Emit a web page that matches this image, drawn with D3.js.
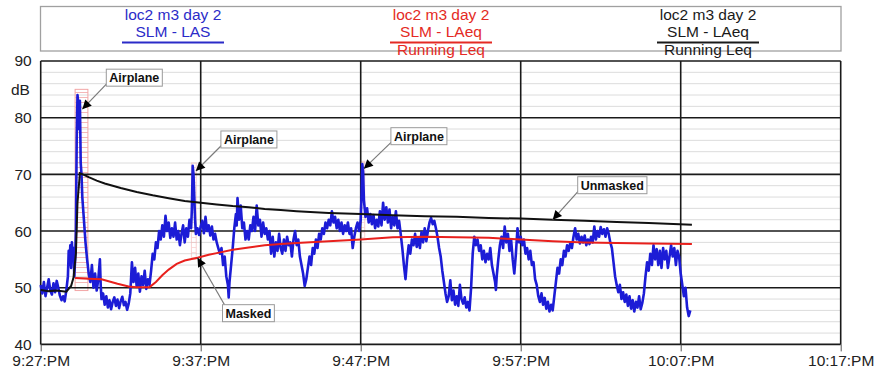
<!DOCTYPE html>
<html><head><meta charset="utf-8">
<script src="https://cdn.jsdelivr.net/npm/d3@7"></script>
<style>body{margin:0;background:#fff}svg{display:block}text{font-family:Arial,"Liberation Sans",sans-serif}</style>
</head><body><svg id="c" width="877" height="374"></svg>
<script>
// ---- data ----
const xTickValues = [0, 10, 20, 30, 40, 50]; // minutes after 9:27 PM
const xTickLabels = ["9:27:PM", "9:37:PM", "9:47:PM", "9:57:PM", "10:07:PM", "10:17:PM"];
const yTickValues = [40, 50, 60, 70, 80, 90];
const yUnit = "dB";

const legendTitles = ["loc2 m3 day 2", "loc2 m3 day 2", "loc2 m3 day 2"];
const legendNames = ["SLM - LAS", "SLM - LAeq", "SLM - LAeq"];
const legendSub = ["", "Running Leq", "Running Leq"];

// SLM - LAS [minutes, dB]
const lasSeries = [[0,50.5],[0.1,49],[0.2,51],[0.3,48.5],[0.4,50],[0.5,51.5],[0.6,49.5],[0.7,48.8],[0.8,50.8],[0.9,49.2],[1.0,51.2],[1.1,50],[1.2,48.6],[1.3,47.8],[1.4,48.5],[1.5,47.6],[1.6,49.5],[1.7,52],[1.75,56.5],[1.8,54],[1.85,57.5],[1.9,53.5],[1.95,58],[2.0,55],[2.05,57],[2.1,52],[2.15,55],[2.2,60],[2.25,76],[2.3,84],[2.35,82.5],[2.4,78],[2.45,83],[2.5,72],[2.55,70],[2.6,66],[2.7,62],[2.8,58],[2.9,55],[3.0,52.5],[3.1,51],[3.2,54],[3.3,50],[3.4,52.5],[3.5,49.5],[3.6,51.5],[3.7,55],[3.75,50.5],[3.8,48],[3.9,49],[4.0,47],[4.1,48.5],[4.2,46.5],[4.3,47.8],[4.4,46.2],[4.5,47.5],[4.6,48.3],[4.7,46.8],[4.8,47.9],[4.9,46.4],[5.0,47.6],[5.1,48.4],[5.2,46.9],[5.3,47.5],[5.4,46.1],[5.5,47.2],[5.6,49],[5.7,54.5],[5.8,51],[5.9,53.5],[6.0,50.2],[6.1,52.5],[6.2,49.3],[6.3,52],[6.4,50.5],[6.5,53],[6.6,49.8],[6.7,51.5],[6.8,50.5],[6.9,53],[7.0,56],[7.1,55],[7.2,58],[7.3,57],[7.4,60],[7.5,58.5],[7.6,61],[7.7,59],[7.8,62.7],[7.9,60],[8.0,61.5],[8.1,58.8],[8.2,60.5],[8.3,59],[8.4,61.5],[8.5,58.5],[8.6,60],[8.7,57.5],[8.8,59.5],[8.9,61],[9.0,58],[9.1,60.5],[9.2,59],[9.3,62],[9.4,60.5],[9.45,64],[9.5,71.5],[9.55,70],[9.6,66],[9.65,62],[9.7,59.5],[9.8,60.5],[9.9,59.3],[10.0,60.8],[10.1,61.8],[10.2,59.6],[10.3,62.5],[10.4,60],[10.5,61],[10.6,59.2],[10.7,60.8],[10.8,58.5],[10.9,59.5],[11.0,58],[11.1,57],[11.2,56],[11.3,57],[11.4,54],[11.5,55.5],[11.6,52],[11.7,50.5],[11.75,48.3],[11.8,51],[11.9,54],[12.0,57],[12.1,60.5],[12.2,63],[12.25,61],[12.3,65.8],[12.4,62],[12.5,64.5],[12.6,60.5],[12.7,61.5],[12.8,58.5],[12.9,60],[13.0,58.5],[13.1,61],[13.2,60],[13.3,62.5],[13.4,60],[13.5,64.5],[13.6,61],[13.7,62],[13.8,59],[13.9,61.5],[14.0,59.5],[14.1,60.5],[14.2,58.5],[14.3,60],[14.4,56],[14.5,59],[14.6,55.5],[14.7,58],[14.8,56.5],[14.9,59.5],[15.0,57],[15.1,56],[15.2,58.5],[15.3,56.5],[15.4,59],[15.5,57.5],[15.6,58],[15.7,55.5],[15.8,58.5],[15.9,60],[16.0,57.5],[16.1,58.5],[16.2,55.5],[16.3,54],[16.4,52.5],[16.5,50.3],[16.6,51.5],[16.7,53.5],[16.8,55.5],[16.9,54],[17.0,57],[17.1,56],[17.2,58.5],[17.3,57],[17.4,59.5],[17.5,58.5],[17.6,60.5],[17.7,59.5],[17.8,61.5],[17.9,60.5],[18.0,62],[18.1,61],[18.2,63.5],[18.3,61.5],[18.4,62.5],[18.5,60.5],[18.6,62],[18.7,60],[18.8,61.5],[18.9,59.5],[19.0,61],[19.1,60],[19.2,61.5],[19.3,59.5],[19.4,60.5],[19.5,57],[19.6,59],[19.7,60.5],[19.8,61.5],[19.9,60],[20.0,62],[20.05,66],[20.1,71.8],[20.15,70.5],[20.2,65.5],[20.3,62.5],[20.4,64],[20.5,61.5],[20.6,63],[20.7,61.2],[20.8,62.8],[20.9,60.5],[21.0,62],[21.1,60.8],[21.2,63.5],[21.3,61],[21.4,65],[21.5,62],[21.6,64.2],[21.7,61.5],[21.8,63.8],[21.9,60.5],[22.0,62.5],[22.1,61],[22.2,63.5],[22.3,60.5],[22.4,61.8],[22.5,59.5],[22.6,57],[22.7,54],[22.8,51.5],[22.9,55],[23.0,57.5],[23.1,56],[23.2,58.5],[23.3,57.5],[23.4,59.5],[23.5,57.2],[23.6,58.8],[23.7,57],[23.8,59.8],[23.9,58],[24.0,60.5],[24.1,58.2],[24.2,60],[24.3,61.5],[24.4,62.3],[24.5,61.2],[24.6,61.8],[24.7,60.5],[24.8,59],[24.9,57],[25.0,55.5],[25.1,53],[25.2,51],[25.3,49],[25.4,47.5],[25.5,48.5],[25.6,51.3],[25.7,47.8],[25.8,49.5],[25.9,47],[26.0,48.5],[26.1,46.8],[26.2,50.5],[26.3,48],[26.4,47.2],[26.5,48.3],[26.6,46.5],[26.7,47.5],[26.8,46],[26.9,50],[27.0,56],[27.1,59],[27.2,57.5],[27.3,58.5],[27.4,56.5],[27.5,57.5],[27.6,55],[27.7,56.5],[27.8,54.5],[27.9,56],[28.0,55],[28.1,57],[28.2,54],[28.3,52.5],[28.4,51],[28.45,49.6],[28.5,52],[28.6,55],[28.7,57.5],[28.8,59],[28.9,57],[29.0,60.8],[29.1,58],[29.2,59.5],[29.3,56.5],[29.4,58.5],[29.5,55],[29.6,52.5],[29.7,56],[29.8,60.5],[29.9,58],[30.0,59],[30.1,57.5],[30.2,58.5],[30.3,56],[30.4,57],[30.5,55],[30.6,56.5],[30.7,54],[30.8,54.5],[30.9,51.5],[31.0,50.5],[31.1,48.5],[31.2,47.5],[31.3,49],[31.4,47],[31.5,48.2],[31.6,46.3],[31.7,47.5],[31.8,45.8],[31.9,47],[32.0,46],[32.1,48.5],[32.2,51],[32.3,53.5],[32.4,52.5],[32.5,55],[32.6,54],[32.7,56.5],[32.8,55.5],[32.9,57.5],[33.0,56.5],[33.1,58],[33.2,57],[33.3,59],[33.4,60.5],[33.5,58.5],[33.6,59.5],[33.7,57.8],[33.8,59],[33.9,58],[34.0,59.2],[34.1,57.5],[34.2,58.5],[34.3,57.7],[34.4,59],[34.5,58],[34.6,60.8],[34.7,58.5],[34.8,60],[34.9,59],[35.0,60.7],[35.1,59.5],[35.2,60.3],[35.3,59],[35.4,60.5],[35.5,59.5],[35.6,58],[35.7,57],[35.8,54.5],[35.9,52],[36.0,50.5],[36.1,49.2],[36.2,50.5],[36.3,48],[36.4,49.2],[36.5,47.5],[36.6,48.8],[36.7,46.8],[36.8,48.5],[36.9,46.3],[37.0,47.8],[37.1,45.8],[37.2,47.5],[37.3,46.5],[37.4,48.5],[37.5,46.2],[37.6,47.3],[37.7,49],[37.8,52],[37.9,54.5],[38.0,53],[38.1,56],[38.2,54],[38.3,57.5],[38.4,55],[38.5,56.8],[38.6,54],[38.7,56.5],[38.8,53.5],[38.9,57],[39.0,55],[39.1,56.5],[39.2,53.5],[39.3,55.5],[39.4,57.5],[39.5,55.5],[39.6,57],[39.7,54],[39.8,56.5],[39.9,55.5],[40.0,52.5],[40.1,50.5],[40.2,48.5],[40.3,50],[40.4,46.5],[40.5,45],[40.6,46]];

// Running Leq, unmasked (black)
const leqUnmasked = [[0,49.6],[0.5,49.4],[1,49.5],[1.6,49.3],[1.9,50.3],[2.05,51.8],[2.2,56],[2.3,65],[2.45,70.2],[2.7,69.9],[3,69.5],[3.5,68.9],[4,68.4],[5,67.6],[6,66.9],[7,66.3],[8,65.8],[9,65.3],[10,65],[11,64.7],[12,64.4],[13,64.2],[14,63.9],[15,63.7],[16,63.5],[18,63.2],[20,63],[22,62.8],[24,62.6],[26,62.5],[28,62.3],[30,62.2],[32,62],[34,61.8],[36,61.6],[38,61.4],[40.7,61.1]];

// Running Leq, masked (red)
const leqMasked = [[2.15,51.7],[3,51.6],[3.8,51.5],[4.8,50.7],[5.5,50.2],[6,50.1],[6.8,50.1],[7.2,51],[7.6,52.2],[8,53.2],[8.5,54.2],[9,54.8],[9.8,55.3],[10.5,55.8],[11,56.1],[12,56.7],[13,57.1],[14,57.5],[15,57.7],[16,57.9],[18,58.2],[20,58.5],[22,58.9],[24,59],[26,58.9],[28,58.8],[30,58.5],[32,58.2],[34,58],[36,57.9],[38,57.8],[40.7,57.7]];

// masked intervals [t0, t1, dBlow, dBhigh]
const maskTimes = [[2.15, 2.95, 49.5, 85], [9.42, 9.72, 55, 72], [20.0, 20.25, 58.5, 72.3]];

// annotations: label, target [minutes, dB]
const annoLabels = ["Airplane", "Airplane", "Airplane", "Unmasked", "Masked"];
const annoTargets = [[2.6, 81.5], [9.7, 70.6], [20.2, 71.0], [32.0, 62.0], [9.8, 55.3]];

// ---- drawing ----
const svg = d3.select("#c");
const x = d3.scaleLinear().domain([0, 50]).range([40.7, 840.7]);
const y = d3.scaleLinear().domain([40, 90]).range([344.4, 61]);

// legend box
svg.append("rect").attr("x", 40.5).attr("y", 6.5).attr("width", 800.5).attr("height", 44.5)
  .attr("fill", "#fff").attr("stroke", "#a0a0a0").attr("stroke-width", 1.3);

// minor grid
const minor = d3.range(42, 90, 2).filter(v => v % 10 !== 0);
svg.append("g").selectAll("line").data(minor).join("line")
  .attr("x1", x(0)).attr("x2", x(50)).attr("y1", d => y(d)).attr("y2", d => y(d))
  .attr("stroke", "#dcdcdc").attr("stroke-width", 1);

// masks
const defs = svg.append("defs");
const pat = defs.append("pattern").attr("id", "hatch").attr("patternUnits", "userSpaceOnUse")
  .attr("width", 6).attr("height", 5);
pat.append("line").attr("x1", 0).attr("x2", 6).attr("y1", 2.5).attr("y2", 2.5)
  .attr("stroke", "#f4b8b8").attr("stroke-width", 1);
svg.append("g").selectAll("rect").data(maskTimes).join("rect")
  .attr("x", d => x(d[0])).attr("y", d => y(d[3]))
  .attr("width", d => x(d[1]) - x(d[0])).attr("height", d => y(d[2]) - y(d[3]))
  .attr("fill", "url(#hatch)").attr("stroke", "#f2a6a6").attr("stroke-width", 1)
  .attr("opacity", (d, i) => i === 0 ? 1 : 0.5);

// major grid
svg.append("g").selectAll("line").data(yTickValues).join("line")
  .attr("x1", x(0)).attr("x2", x(50)).attr("y1", d => y(d)).attr("y2", d => y(d))
  .attr("stroke", "#1a1a1a").attr("stroke-width", 1.6);
svg.append("g").selectAll("line").data(xTickValues).join("line")
  .attr("x1", d => x(d)).attr("x2", d => x(d)).attr("y1", y(90)).attr("y2", y(40))
  .attr("stroke", "#1a1a1a").attr("stroke-width", 1.6);

// axes
const xAxis = svg.append("g").attr("transform", `translate(0,${y(40)})`)
  .call(d3.axisBottom(x).tickValues(xTickValues).tickFormat((d, i) => xTickLabels[i]).tickSize(7).tickPadding(4));
xAxis.select(".domain").remove();
xAxis.selectAll("line").attr("stroke", "#555").attr("stroke-width", 1);
xAxis.selectAll("text").attr("font-size", 15.5).attr("fill", "#222")
  .attr("font-family", "Arial, 'Liberation Sans', sans-serif");

const yAxis = svg.append("g").attr("transform", `translate(${x(0)},0)`)
  .call(d3.axisLeft(y).tickValues(yTickValues).tickSize(0).tickPadding(9));
yAxis.select(".domain").remove();
yAxis.selectAll("text").attr("font-size", 15.5).attr("fill", "#222")
  .attr("font-family", "Arial, 'Liberation Sans', sans-serif");
svg.append("text").attr("x", 11).attr("y", y(84)).attr("font-size", 15.5).attr("fill", "#222").text(yUnit);

// lines
const line = d3.line().x(d => x(d[0])).y(d => y(d[1]));
svg.append("path").datum(lasSeries).attr("d", line).attr("fill", "none")
  .attr("stroke", "#1c1cd6").attr("stroke-width", 2.6).attr("stroke-linejoin", "round");
svg.append("path").datum(leqUnmasked).attr("d", line).attr("fill", "none")
  .attr("stroke", "#111").attr("stroke-width", 2);
svg.append("path").datum(leqMasked).attr("d", line).attr("fill", "none")
  .attr("stroke", "#e8201c").attr("stroke-width", 2);

// annotations
defs.append("marker").attr("id", "ah").attr("viewBox", "0 0 10 10").attr("refX", 10).attr("refY", 5)
  .attr("markerWidth", 13).attr("markerHeight", 9).attr("markerUnits", "userSpaceOnUse").attr("orient", "auto")
  .append("path").attr("d", "M0,0L10,5L0,10Z").attr("fill", "#000");
const boxOffsets = [[24, -25], [25, -25], [27, -26], [25, -28], [25, 47]]; // label corner offset from target
annoLabels.forEach((lab, i) => {
  const tx = x(annoTargets[i][0]), ty = y(annoTargets[i][1]);
  const bx = tx + boxOffsets[i][0], by = ty + boxOffsets[i][1];
  svg.append("line").attr("x1", bx + 2).attr("y1", by + (boxOffsets[i][1] < 0 ? -2 : 0))
    .attr("x2", tx).attr("y2", ty).attr("stroke", "#7a7a7a").attr("stroke-width", 1.2)
    .attr("marker-end", "url(#ah)");
  const g = svg.append("g");
  const t = g.append("text").attr("font-size", 12.5).attr("font-weight", "bold").attr("fill", "#111").text(lab);
  const w = t.node().getComputedTextLength();
  const bh = 17;
  const top = boxOffsets[i][1] < 0 ? by - bh + 2 : by;
  g.insert("rect", "text").attr("x", bx).attr("y", top).attr("width", w + 6).attr("height", bh)
    .attr("fill", "#fff").attr("stroke", "#9a9a9a").attr("stroke-width", 1);
  t.attr("x", bx + 3).attr("y", top + 13);
});

// legend entries
const legendCenters = [173, 441, 708];
const legendColors = ["#2b2bc8", "#e42a24", "#1a1a1a"];
legendTitles.forEach((title, i) => {
  const cx = legendCenters[i];
  const g = svg.append("g").attr("fill", legendColors[i]).attr("font-size", 15.5).attr("text-anchor", "middle");
  g.append("text").attr("x", cx).attr("y", 20).text(title);
  g.append("text").attr("x", cx).attr("y", 37).text(legendNames[i]);
  svg.append("line").attr("x1", cx - 51).attr("x2", cx + 51).attr("y1", 42.5).attr("y2", 42.5)
    .attr("stroke", legendColors[i]).attr("stroke-width", 2);
  if (legendSub[i]) g.append("text").attr("x", cx).attr("y", 55).text(legendSub[i]);
});
</script></body></html>
